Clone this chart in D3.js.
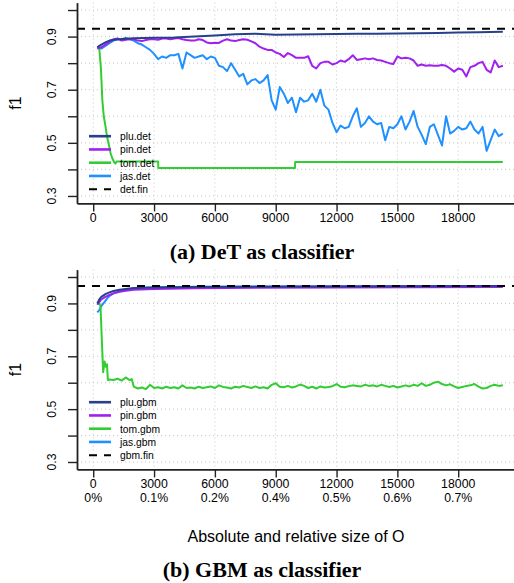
<!DOCTYPE html>
<html>
<head>
<meta charset="utf-8">
<script src="https://cdn.jsdelivr.net/npm/d3@7"></script>
<style>
  body { margin: 0; background: #fff; }
  text { font-family: "Liberation Sans", Arial, sans-serif; fill: #000; }
  .caption { font-family: "Liberation Serif", "Times New Roman", serif; font-weight: bold; }
</style>
</head>
<body>
<svg width="514" height="583"></svg>
<script>
// ---- data ----
var sizeTicks = [0, 3000, 6000, 9000, 12000, 15000, 18000];
var shareLabels = ["0%", "0.1%", "0.2%", "0.4%", "0.5%", "0.6%", "0.7%"];
var f1Ticks = [0.3, 0.4, 0.5, 0.6, 0.7, 0.8, 0.9, 1.0];
var f1Labels = [0.3, 0.5, 0.7, 0.9];

// sample sizes for the noisy runs (every 200 rows of O)
var sizeGrid = d3.range(200, 20201, 200);

// --- DeT ---
var pluDetX = [200, 300, 400, 600, 800, 1000, 1300, 1600, 2000, 3000, 4000, 5000, 6000, 7000, 8000, 9000, 10000, 11000, 12000, 13000, 14000, 15000, 16000, 17000, 18000, 19000, 20200];
var pluDetY = [0.86, 0.865, 0.87, 0.878, 0.885, 0.888, 0.89, 0.892, 0.894, 0.896, 0.897, 0.9, 0.904, 0.909, 0.911, 0.907, 0.908, 0.909, 0.91, 0.911, 0.911, 0.912, 0.913, 0.914, 0.915, 0.916, 0.918];

var pinDetY = [
  .855, .86, .87, .88, .89, .893, .885, .888, .89, .89,
  .885, .883, .887, .89, .89, .888, .893, .893, .89, .893,
  .895, .89, .887, .885, .885, .89, .887, .878, .875, .877,
  .876, .885, .89, .885, .883, .887, .89, .888, .882, .875,
  .862, .855, .85, .85, .84, .835, .823, .838, .83, .82,
  .82, .82, .826, .79, .78, .80, .805, .805, .795, .80,
  .81, .805, .815, .83, .812, .815, .818, .815, .818, .812,
  .81, .805, .80, .797, .825, .818, .82, .818, .81, .79,
  .795, .79, .792, .79, .79, .793, .79, .78, .768, .78,
  .775, .75, .785, .79, .80, .805, .775, .765, .81, .785,
  .79
];

var tomDetX = [200, 300, 380, 450, 520, 600, 690, 780, 860, 950, 1050, 1100, 1150, 3200, 3210, 9950, 9960, 20200];
var tomDetY = [0.86, 0.855, 0.78, 0.66, 0.6, 0.565, 0.52, 0.49, 0.46, 0.44, 0.425, 0.422, 0.43, 0.43, 0.405, 0.405, 0.428, 0.428];

var jasDetY = [
  .86, .855, .865, .875, .885, .89, .89, .895, .89, .885,
  .875, .87, .86, .85, .835, .815, .825, .82, .83, .83,
  .835, .78, .84, .83, .82, .825, .83, .815, .825, .82,
  .79, .785, .77, .80, .775, .75, .76, .72, .735, .74,
  .725, .735, .755, .66, .625, .71, .685, .65, .67, .615,
  .67, .655, .66, .685, .655, .70, .64, .625, .575, .54,
  .565, .555, .56, .60, .63, .56, .575, .60, .58, .57,
  .575, .51, .56, .555, .57, .60, .55, .58, .62, .56,
  .53, .495, .56, .57, .53, .49, .60, .535, .545, .56,
  .55, .555, .58, .55, .535, .56, .47, .51, .55, .525,
  .535
];
var detFin = 0.93;

// --- GBM ---
var pluGbmX = [200, 300, 400, 600, 800, 1000, 1300, 1600, 2000, 3000, 5000, 8000, 12000, 16000, 20200];
var pluGbmY = [0.90, 0.915, 0.925, 0.935, 0.942, 0.947, 0.952, 0.955, 0.958, 0.96, 0.962, 0.963, 0.964, 0.965, 0.966];
var pinGbmX = [200, 300, 400, 600, 800, 1000, 1300, 1600, 2000, 3000, 5000, 8000, 12000, 16000, 20200];
var pinGbmY = [0.895, 0.905, 0.915, 0.925, 0.932, 0.938, 0.944, 0.948, 0.952, 0.955, 0.957, 0.959, 0.96, 0.961, 0.962];
var jasGbmX = [200, 300, 400, 500, 600, 700, 800, 1000, 1300, 1600, 2000, 3000, 5000, 8000, 12000, 16000, 20200];
var jasGbmY = [0.866, 0.875, 0.89, 0.90, 0.91, 0.92, 0.928, 0.938, 0.946, 0.952, 0.957, 0.961, 0.963, 0.964, 0.965, 0.966, 0.966];

var tomGbmHeadX = [200, 300, 360, 420, 490, 560, 620, 680, 720, 800, 1000, 1200, 1400, 1600, 1800, 1900];
var tomGbmHeadY = [0.90, 0.90, 0.89, 0.77, 0.64, 0.68, 0.66, 0.67, 0.61, 0.612, 0.61, 0.615, 0.608, 0.62, 0.61, 0.614];
var tomGbmTailY = [
  .585, .578, .582, .576, .592, .58, .583, .578, .585, .58,
  .583, .578, .59, .58, .582, .578, .585, .58, .583, .586,
  .58, .59, .584, .582, .578, .585, .582, .588, .584, .58,
  .586, .58, .583, .578, .592, .598, .585, .583, .588, .582,
  .586, .593, .588, .58, .585, .578, .586, .582, .584, .587,
  .595, .585, .583, .587, .59, .588, .586, .592, .588, .59,
  .586, .592, .588, .584, .588, .582, .586, .59, .586, .592,
  .588, .598, .588, .592, .60, .604, .595, .59, .594, .586,
  .58, .584, .588, .59, .595, .585, .578, .58, .588, .592,
  .588, .59
];
var gbmFin = 0.966;

var colors = { plu: "#27408B", pin: "#A020F0", tom: "#32CD32", jas: "#1E90FF" };

// ---- layout ----
var svg = d3.select("svg");
var x = d3.scaleLinear().domain([-800, 20800]).range([77, 515]);

var panels = [
  {
    top: 2.6, bottom: 203.4, suffix: "det", fin: detFin,
    caption: "(a) DeT as classifier", captionY: 259, share: false,
    series: {
      plu: d3.zip(pluDetX, pluDetY),
      pin: d3.zip(sizeGrid, pinDetY),
      tom: d3.zip(tomDetX, tomDetY),
      jas: d3.zip(sizeGrid, jasDetY)
    }
  },
  {
    top: 269.6, bottom: 469.4, suffix: "gbm", fin: gbmFin,
    caption: "(b) GBM as classifier", captionY: 577, share: true,
    series: {
      plu: d3.zip(pluGbmX, pluGbmY),
      pin: d3.zip(pinGbmX, pinGbmY),
      tom: d3.zip(tomGbmHeadX.concat(d3.range(2000, 20201, 200)), tomGbmHeadY.concat(tomGbmTailY)),
      jas: d3.zip(jasGbmX, jasGbmY)
    }
  }
];

panels.forEach(function(p) {
  var y = d3.scaleLinear().domain([0.272, 1.028]).range([p.bottom, p.top]);
  var g = svg.append("g");

  // dotted grid
  g.selectAll(".hgrid").data(f1Ticks).enter().append("line")
      .attr("x1", 77).attr("x2", 515)
      .attr("y1", function(d) { return y(d); }).attr("y2", function(d) { return y(d); })
      .attr("stroke", "#c8c8c8").attr("stroke-dasharray", "1,3");
  g.selectAll(".vgrid").data(sizeTicks).enter().append("line")
      .attr("x1", function(d) { return x(d); }).attr("x2", function(d) { return x(d); })
      .attr("y1", p.top).attr("y2", p.bottom)
      .attr("stroke", "#c8c8c8").attr("stroke-dasharray", "1,3");

  // series lines
  var line = d3.line().x(function(d) { return x(d[0]); }).y(function(d) { return y(d[1]); });
  ["jas", "tom", "pin", "plu"].forEach(function(k) {
    g.append("path").datum(p.series[k])
        .attr("d", line)
        .attr("fill", "none")
        .attr("stroke", colors[k])
        .attr("stroke-width", 2)
        .attr("stroke-linejoin", "round");
  });

  // final f1 (dashed)
  g.append("line")
      .attr("x1", 77).attr("x2", 515)
      .attr("y1", y(p.fin)).attr("y2", y(p.fin))
      .attr("stroke", "#000").attr("stroke-width", 2)
      .attr("stroke-dasharray", "8,7");

  // axes
  var ay = g.append("g").attr("transform", "translate(77,0)")
      .call(d3.axisLeft(y).tickValues(f1Ticks).tickSize(9).tickSizeOuter(0).tickFormat(""));
  var ax = g.append("g").attr("transform", "translate(0," + p.bottom + ")")
      .call(d3.axisBottom(x).tickValues(sizeTicks).tickSize(8).tickSizeOuter(0).tickFormat(""));
  [ay, ax].forEach(function(a) {
    a.select(".domain").attr("stroke", "#222").attr("stroke-width", 1.8);
    a.selectAll(".tick line").attr("stroke", "#222").attr("stroke-width", 1.4);
  });

  // y labels (rotated, like R's las=0)
  g.selectAll(".ylab").data(f1Labels).enter().append("text")
      .attr("transform", function(d) { return "translate(56," + y(d) + ") rotate(-90)"; })
      .attr("text-anchor", "middle")
      .style("font-size", "12.3px")
      .text(function(d) { return d.toFixed(1); });

  g.append("text")
      .attr("transform", "translate(21," + (p.top + p.bottom) / 2 + ") rotate(-90)")
      .attr("text-anchor", "middle")
      .style("font-size", "16px")
      .text("f1");

  // x labels
  g.selectAll(".xlab").data(sizeTicks).enter().append("text")
      .attr("x", function(d) { return x(d); })
      .attr("y", p.bottom + 18.6)
      .attr("text-anchor", "middle")
      .style("font-size", "12.3px")
      .text(function(d) { return d; });

  if (p.share) {
    g.selectAll(".plab").data(sizeTicks).enter().append("text")
        .attr("x", function(d) { return x(d); })
        .attr("y", p.bottom + 32.6)
        .attr("text-anchor", "middle")
        .style("font-size", "12.3px")
        .text(function(d, i) { return shareLabels[i]; });
    g.append("text")
        .attr("x", 296).attr("y", p.bottom + 72.6)
        .attr("text-anchor", "middle")
        .style("font-size", "16px")
        .text("Absolute and relative size of O");
  }

  // legend
  var items = ["plu", "pin", "tom", "jas", "fin"];
  var leg = g.selectAll(".leg").data(items).enter().append("g")
      .attr("transform", function(d, i) { return "translate(0," + (p.bottom - 67.2 + i * 13.25) + ")"; });
  leg.append("line")
      .attr("x1", 89).attr("x2", 111)
      .attr("stroke", function(d) { return d == "fin" ? "#000" : colors[d]; })
      .attr("stroke-width", function(d) { return d == "fin" ? 2 : 2.6; })
      .attr("stroke-dasharray", function(d) { return d == "fin" ? "8,7" : null; });
  leg.append("text")
      .attr("x", 120).attr("y", 3.8)
      .style("font-size", "10.3px")
      .text(function(d) { return d == "fin" ? p.suffix + ".fin" : d + "." + p.suffix; });

  // caption
  svg.append("text")
      .attr("class", "caption")
      .attr("x", 262).attr("y", p.captionY)
      .attr("text-anchor", "middle")
      .style("font-size", "22px")
      .text(p.caption);
});
</script>
</body>
</html>
